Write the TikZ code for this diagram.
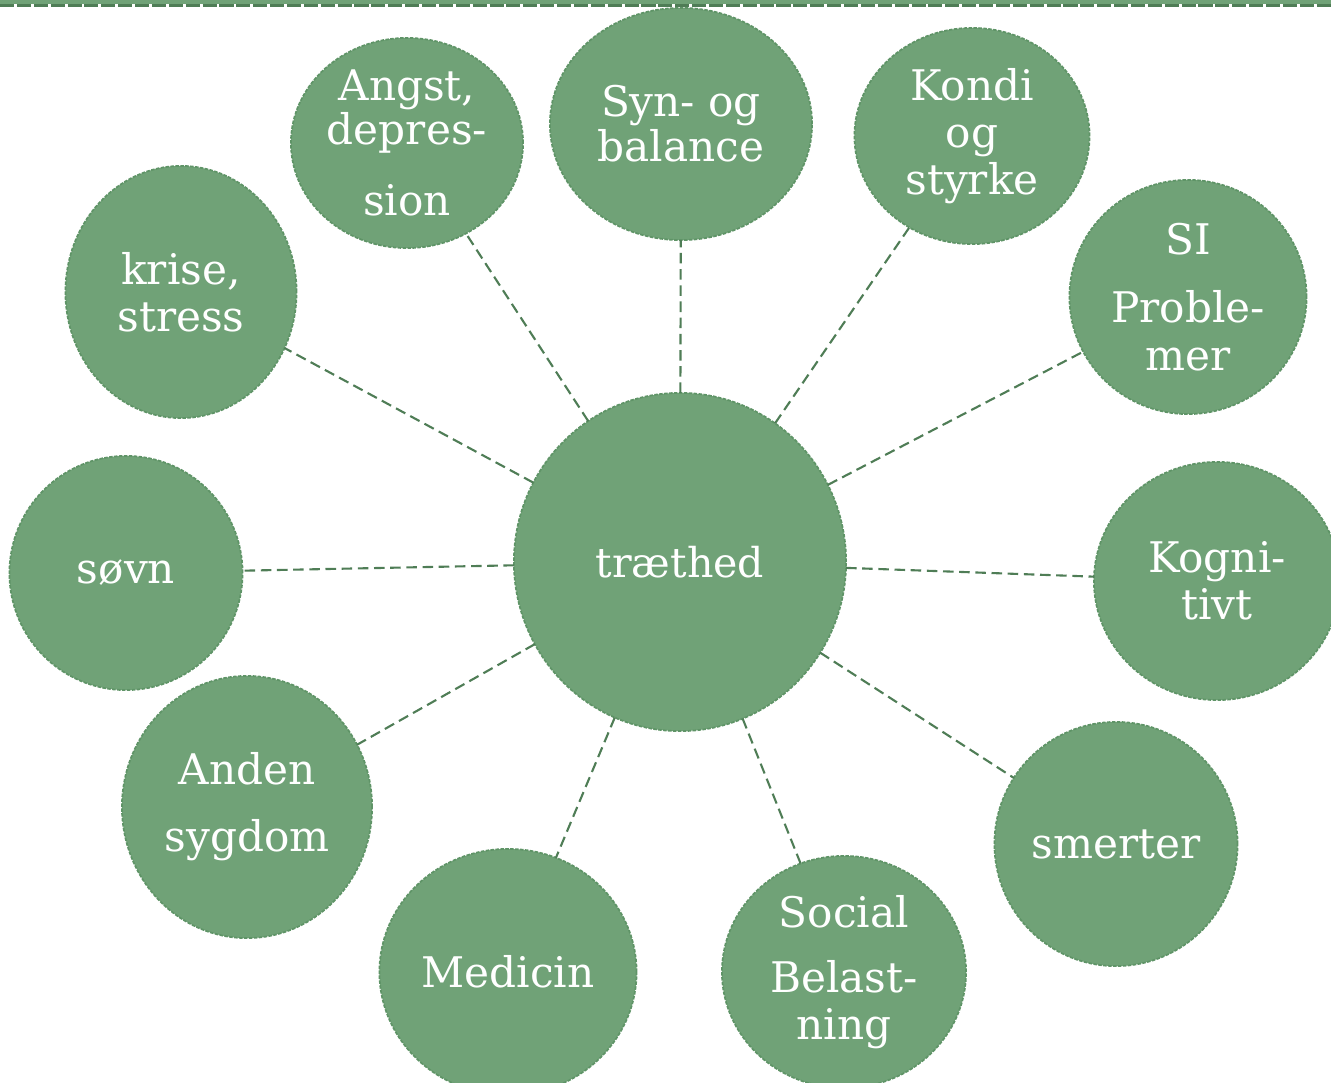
\documentclass[tikz,border=0pt]{standalone}
\usepackage{xcolor}
\usepackage{fontspec}
\setmainfont{DejaVu Serif}
\usepackage{tikz}
\usetikzlibrary{positioning}
\usetikzlibrary{shapes}

\definecolor{bubblegreen}{HTML}{70A277}
\definecolor{rimgreen}{HTML}{5F9467}
\definecolor{linkgreen}{HTML}{4F7D56}

\begin{document}
\begin{tikzpicture}[x = 0.01cm, y = -0.01cm,
                	    core/.style = { ellipse, fill = bubblegreen, draw = rimgreen, line width = 0.5pt, dash pattern = on 1pt off 0.4pt, text = white, inner sep = -0.6cm, outer sep = 0pt, align = center, font = \fontsize{11.7}{14}\selectfont },
                		topic/.style = { ellipse, fill = bubblegreen, draw = rimgreen, line width = 0.5pt, dash pattern = on 1pt off 0.4pt, text = white, inner sep = -0.6cm, outer sep = 0pt, align = center, font = \fontsize{12}{13.4}\selectfont },
                		link/.style = { draw = linkgreen, line width = 0.6pt, dash pattern = on 3pt off 1.6pt },
            		]
            		    \useasboundingbox (0,0) rectangle (1331,1082);
            		    % top rule
            		    \fill[bubblegreen] (0,0) rectangle (1331,4);
            		    \draw[linkgreen, line width = 0.8pt, dash pattern = on 4pt off 0.8pt] (0,5.5) -- (1331,5.5);

            		    \node[core, minimum width = 3.32cm, minimum height = 3.38cm] (Traethed) at (680,562) {træthed};

            		    \node[topic, minimum width = 2.32cm, minimum height = 2.10cm] (Angst) at (407,143) {Angst,\\[-1pt]depres-\\[6.8pt]sion};
            		    \node[topic, minimum width = 2.62cm, minimum height = 2.32cm] (Syn) at (681,124) {Syn- og\\[-0.6pt]balance};
            		    \node[topic, minimum width = 2.35cm, minimum height = 2.16cm] (Kondi) at (972,136) {Kondi\\og\\styrke};
            		    \node[topic, minimum width = 2.37cm, minimum height = 2.34cm] (SI) at (1188,297) {SI\\[6pt]Proble-\\mer};
            		    \node[topic, minimum width = 2.46cm, minimum height = 2.38cm] (Kognitivt) at (1217,581) {Kogni-\\tivt};
            		    \node[topic, minimum width = 2.43cm, minimum height = 2.44cm] (Smerter) at (1116,844) {smerter};
            		    \node[topic, minimum width = 2.44cm, minimum height = 2.32cm] (Social) at (844,972) {Social\\[5.1pt]Belast-\\ning};
            		    \node[topic, minimum width = 2.57cm, minimum height = 2.46cm] (Medicin) at (508,972) {Medicin};
            		    \node[topic, minimum width = 2.50cm, minimum height = 2.62cm] (Anden) at (247,807) {Anden\\[5.7pt]sygdom};
            		    \node[topic, minimum width = 2.33cm, minimum height = 2.34cm] (Sovn) at (126,573) {søvn};
            		    \node[topic, minimum width = 2.31cm, minimum height = 2.52cm] (Krise) at (181,292) {krise,\\stress};

            		    \draw[link] (Traethed) -- (Angst);
            		    \draw[link] (Traethed) -- (Syn);
            		    \draw[link] (Traethed) -- (Kondi);
            		    \draw[link] (Traethed) -- (SI);
            		    \draw[link] (Traethed) -- (Kognitivt);
            		    \draw[link] (Traethed) -- (Smerter);
            		    \draw[link] (Traethed) -- (Social);
            		    \draw[link] (Traethed) -- (Medicin);
            		    \draw[link] (Traethed) -- (Anden);
            		    \draw[link] (Traethed) -- (Sovn);
            		    \draw[link] (Traethed) -- (Krise);
            		\end{tikzpicture}
\end{document}
